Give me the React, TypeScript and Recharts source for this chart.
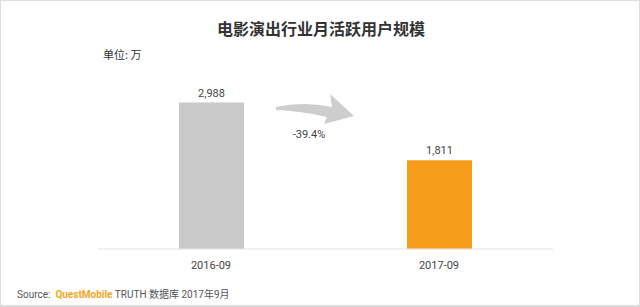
import React from "react";
import { BarChart, Bar, XAxis, YAxis, Cell, LabelList, Customized } from "recharts";

const months = ["2016-09", "2017-09"];
const activeUsers = [2988, 1811];
const barColors = ["#c9c9c9", "#f89c1c"];
const changeLabel = "-39.4%";

const data = months.map((m, i) => ({ month: m, users: activeUsers[i] }));

const fmt = (v: any) => Number(v).toLocaleString("en-US");

const Arrow = () => (
    <g>
        <path
            d="M275,106 Q302,100 331,106 L329,93 L353,115 L323,123 L326,116 Q300,110 275,109 Z"
            fill="#cdcdcd"
        />
        <text x={308} y={137} textAnchor="middle" fontSize={11} fill="#444" fontFamily="Roboto, sans-serif">
            {changeLabel}
        </text>
    </g>
);

const App = () => {
    return (
        <div
            style={{
                position: "absolute",
                left: 0,
                top: 0,
                width: 640,
                height: 307,
                boxSizing: "border-box",
                border: "1px solid #dedede",
                borderBottomWidth: 2,
                background: "#fff",
                fontFamily: "'Noto Sans CJK SC', sans-serif",
            }}
        >
            <div
                style={{
                    position: "absolute",
                    top: 15,
                    left: 0,
                    width: 640,
                    textAlign: "center",
                    fontSize: 16,
                    fontWeight: 700,
                    color: "#333",
                }}
            >
                电影演出行业月活跃用户规模
            </div>
            <div style={{ position: "absolute", top: 45, left: 102, fontSize: 11, color: "#333" }}>
                单位: 万
            </div>
            <BarChart
                width={638}
                height={305}
                data={data}
                margin={{ top: 101, right: 86, left: 96, bottom: 27 }}
                style={{ position: "absolute", left: 0, top: 0 }}
            >
                <XAxis
                    dataKey="month"
                    tickLine={false}
                    axisLine={{ stroke: "#e3e3e3" }}
                    tick={{ fontSize: 11, fill: "#444", fontFamily: "Roboto, sans-serif" }}
                    tickMargin={6}
                />
                <YAxis hide domain={[0, 3000]} />
                <Bar dataKey="users" barSize={65} isAnimationActive={false}>
                    {data.map((d, i) => (
                        <Cell key={d.month} fill={barColors[i]} />
                    ))}
                    <LabelList
                        dataKey="users"
                        position="top"
                        offset={6}
                        formatter={fmt}
                        style={{ fontSize: 11, fill: "#444", fontFamily: "Roboto, sans-serif" }}
                    />
                </Bar>
                <Customized component={Arrow} />
            </BarChart>
            <div
                style={{
                    position: "absolute",
                    top: 285,
                    left: 16,
                    fontSize: 10,
                    color: "#555",
                    fontFamily: "Roboto, 'Noto Sans CJK SC', sans-serif",
                }}
            >
                Source:&nbsp;&nbsp;
                <span style={{ color: "#f5a623", fontWeight: 700 }}>QuestMobile</span> TRUTH 数据库 2017年9月
            </div>
        </div>
    );
};

export default App;
